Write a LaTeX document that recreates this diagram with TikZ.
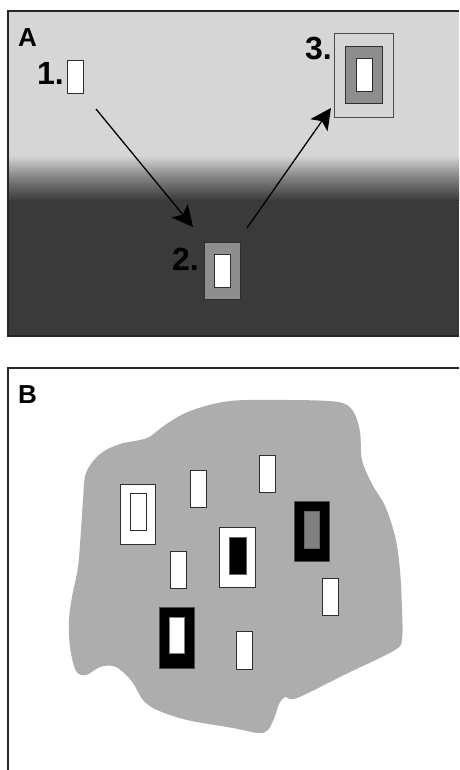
\documentclass[tikz,border=0pt]{standalone}
\usepackage{fontspec}
\setmainfont{Liberation Sans}
\usetikzlibrary{arrows.meta}
\definecolor{lightbg}{HTML}{D6D6D6}
\definecolor{darkbg}{HTML}{3A3A3A}
\definecolor{midgray}{HTML}{8E8E8E}
\definecolor{blobgray}{HTML}{ADADAD}
\definecolor{innergray}{HTML}{808080}
\definecolor{edge}{HTML}{2E2E2E}
\tikzset{
  box/.style={draw=edge, line width=1pt, inner sep=0pt, outer sep=0pt, anchor=north west},
  wbox/.style={box, fill=white},
  gbox/.style={box, fill=midgray},
  kbox/.style={box, fill=black, draw=black!70},
  frame/.style={draw=black!85, line width=1.2pt},
  panel/.style={font=\fontsize{26}{26}\selectfont\bfseries, inner sep=0pt, anchor=base west},
  num/.style={font=\fontsize{32}{32}\selectfont\bfseries, inner sep=0pt, anchor=base east},
  arr/.style={line width=1.3pt, -{Stealth[length=21pt, width=21pt, inset=5pt]}}
}
\begin{document}
\begin{tikzpicture}[x=1pt, y=-1pt]
\useasboundingbox (0,0) rectangle (459,770);

% ---------- panel A: light sky fading into dark ground ----------
\fill[lightbg] (8,11) rectangle (459,156);
\shade[top color=lightbg, bottom color=darkbg, middle color=lightbg!45!darkbg] (8,155.5) rectangle (459,200.5);
\fill[darkbg] (8,200) rectangle (459,336);
\draw[frame] (459,11) -- (8,11) -- (8,336) -- (459,336);
\node[panel] (labA) at (18,47) {A};

% step 1: plain white box
\node[wbox, minimum width=16pt, minimum height=33pt] (b1) at (67,61) {};
\node[num] (n1) at (64,85) {1.};

% step 2: white box inside a gray frame
\node[gbox, minimum width=36pt, minimum height=57pt] (b2) at (204,242) {};
\node[wbox, minimum width=16pt, minimum height=33pt] (b2i) at (214,254) {};
\node[num] (n2) at (199,270) {2.};

% step 3: white box, gray frame, outer light frame
\node[box, fill=lightbg, draw=black!70, minimum width=59pt, minimum height=84pt] (b3) at (334,34) {};
\node[gbox, minimum width=37pt, minimum height=57pt] (b3m) at (345,47) {};
\node[wbox, minimum width=16pt, minimum height=33pt] (b3i) at (356,59) {};
\node[num] (n3) at (332,60) {3.};

% transitions
\coordinate (a1s) at (96,109);
\coordinate (a1e) at (193,227);
\coordinate (a2s) at (247,228);
\coordinate (a2e) at (331,108);
\draw[arr] (a1s) -- (a1e);
\draw[arr] (a2s) -- (a2e);

% ---------- panel B ----------
\draw[frame] (459,368) -- (8,368) -- (8,770);
\node[panel] (labB) at (18,403) {B};

\fill[blobgray] plot[smooth cycle, tension=0.55] coordinates {
  (86,473) (100,454) (120,444) (147,438) (165,425) (190,411) (230,401)
  (290,400) (338,402) (353,411) (360,432) (362,460) (372,484) (385,506)
  (395,536) (400,570) (402,610) (402,638) (395,650) (346,674) (297,698)
  (285,697) (279,704) (275,716) (268,730) (258,733) (233,728) (187,720)
  (157,710) (143,700) (133,683) (123,672) (113,666) (100,667) (86,675)
  (76,671) (70,647) (69,620) (72,597) (78,567) (81,530) (83,500)
};

% double white frame
\node[wbox, minimum width=35pt, minimum height=60pt] (c1) at (120,484) {};
\node[wbox, minimum width=16pt, minimum height=37pt] (c1i) at (130,493) {};
% plain white boxes
\node[wbox, minimum width=16pt, minimum height=37pt] (w1) at (190,470) {};
\node[wbox, minimum width=16pt, minimum height=37pt] (w2) at (259,455) {};
\node[wbox, minimum width=16pt, minimum height=37pt] (w3) at (170,551) {};
\node[wbox, minimum width=16pt, minimum height=37pt] (w4) at (322,578) {};
\node[wbox, minimum width=16pt, minimum height=38pt] (w5) at (236,631) {};
% white frame with black core
\node[wbox, minimum width=36pt, minimum height=60pt] (c2) at (219,527) {};
\node[box, fill=black, draw=black!60, minimum width=17pt, minimum height=37pt] (c2i) at (229,537) {};
% black frame with gray core
\node[kbox, minimum width=35pt, minimum height=60pt] (c3) at (294,501) {};
\node[box, fill=innergray, draw=black!60, minimum width=15pt, minimum height=37pt] (c3i) at (304,511) {};
% black frame with white core
\node[kbox, minimum width=35pt, minimum height=61pt] (c4) at (159,607) {};
\node[box, fill=white, draw=black!50, minimum width=15pt, minimum height=36pt] (c4i) at (169,617) {};
\end{tikzpicture}
\end{document}
